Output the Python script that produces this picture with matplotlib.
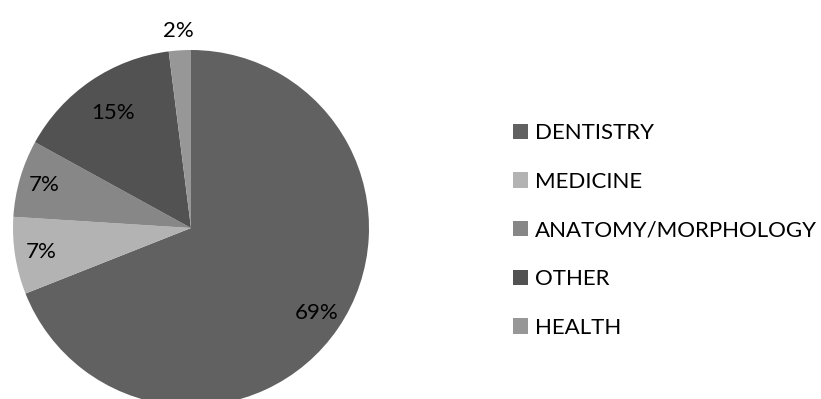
import numpy as np
import matplotlib
matplotlib.use("Agg")
import matplotlib.pyplot as plt

categories = ["DENTISTRY", "MEDICINE", "ANATOMY/MORPHOLOGY", "OTHER", "HEALTH"]
shares = [69, 7, 7, 15, 2]
colors = ["#616161", "#b3b3b3", "#878787", "#525252", "#979797"]
# radial position of each percentage label, as a fraction of the radius
label_dist = [0.85, 0.85, 0.86, 0.78, 1.11]

plt.rcParams["font.family"] = ["Lato", "DejaVu Sans"]

W, H = 821, 399
fig = plt.figure(figsize=(W / 100, H / 100), dpi=100)
ax = fig.add_axes([0, 0, 1, 1])

cx, cy, r = 191, 171, 178
wedges, _ = ax.pie(shares, colors=colors, startangle=90, counterclock=False,
                   center=(cx, cy), radius=r,
                   wedgeprops=dict(linewidth=0))

for w, v, d in zip(wedges, shares, label_dist):
    ang = np.deg2rad((w.theta1 + w.theta2) / 2)
    ax.text(cx + d * r * np.cos(ang), cy + d * r * np.sin(ang), f"{v}%",
            ha="center", va="center", fontsize=16, color="#000000")

ax.set_xlim(0, W)
ax.set_ylim(0, H)
ax.set_aspect("equal")
ax.axis("off")

leg = ax.legend(wedges, categories, loc="upper left",
                bbox_to_anchor=(513 / W, 1 - 123 / H),
                frameon=False, fontsize=16, handlelength=0.68,
                handleheight=0.68, handletextpad=0.32, labelspacing=1.29,
                borderpad=0, borderaxespad=0)
for t in leg.get_texts():
    t.set_color("#000000")

fig.savefig("out.png", dpi=100)
